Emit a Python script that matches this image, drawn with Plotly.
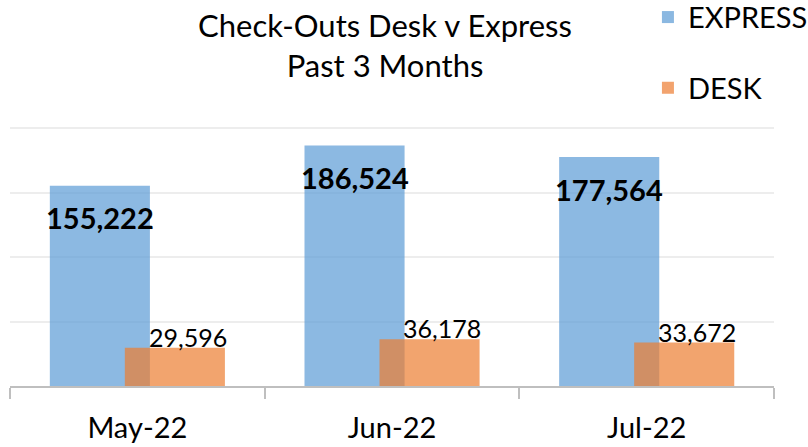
import plotly.graph_objects as go

months = ["May-22", "Jun-22", "Jul-22"]
express = [155222, 186524, 177564]
desk = [29596, 36178, 33672]

FONT = "Lato"
BAR_W = 0.393
EXP_OFF = -0.3436
DESK_OFF = -0.0491

fig = go.Figure()
fig.add_trace(go.Bar(
    name="EXPRESS", x=months, y=express, width=BAR_W, offset=EXP_OFF,
    marker=dict(color="#5B9BD5", line=dict(width=0)), opacity=0.7,
    legendgroup="a", hoverinfo="skip"))
fig.add_trace(go.Bar(
    name="DESK", x=months, y=desk, width=BAR_W, offset=DESK_OFF,
    marker=dict(color="#ED7D31", line=dict(width=0)), opacity=0.7,
    legendgroup="b", hoverinfo="skip"))

annotations = []
for i, v in enumerate(express):
    annotations.append(dict(
        x=i + EXP_OFF + BAR_W / 2, y=v, xref="x", yref="y", text=f"<b>{v:,}</b>",
        showarrow=False, xanchor="center", yanchor="middle", yshift=-32,
        font=dict(family=FONT, size=29, color="black")))
for i, v in enumerate(desk):
    annotations.append(dict(
        x=i + DESK_OFF + BAR_W / 2 + 0.05, y=v, xref="x", yref="y", text=f"{v:,}",
        showarrow=False, xanchor="center", yanchor="middle", yshift=11,
        font=dict(family=FONT, size=25, color="black")))

fig.update_layout(
    width=808, height=447,
    margin=dict(l=10, r=34, t=126, b=61, autoexpand=False),
    paper_bgcolor="white", plot_bgcolor="white",
    barmode="overlay",
    title=dict(text="Check-Outs Desk v Express<br>Past 3 Months",
               x=385 / 808, xref="container", xanchor="center",
               y=1 - 37 / 447, yref="container", yanchor="top",
               font=dict(family=FONT, size=31, color="black")),
    legend=dict(x=0.835, xref="paper", xanchor="left",
                y=1.5165, yref="paper", yanchor="top",
                font=dict(family=FONT, size=29, color="black"),
                tracegroupgap=30, bgcolor="rgba(0,0,0,0)"),
    annotations=annotations,
    xaxis=dict(type="category", range=[-0.5, 2.5], showline=True,
               linecolor="#BFBFBF", linewidth=2, ticks="outside", ticklen=11,
               tickwidth=2, tickcolor="#BFBFBF", tickson="boundaries",
               ticklabelstandoff=15,
               showgrid=False, tickfont=dict(family=FONT, size=29, color="black")),
    yaxis=dict(range=[0, 201600], tickvals=[50000, 100000, 150000, 200000],
               showgrid=True, gridcolor="#EDEDED",
               gridwidth=2, showticklabels=False, zeroline=False, showline=False,
               ticks=""),
)

fig.write_html("out.html", config={"displayModeBar": False},
               post_script="document.body.style.margin='0';document.body.style.overflow='hidden';")
